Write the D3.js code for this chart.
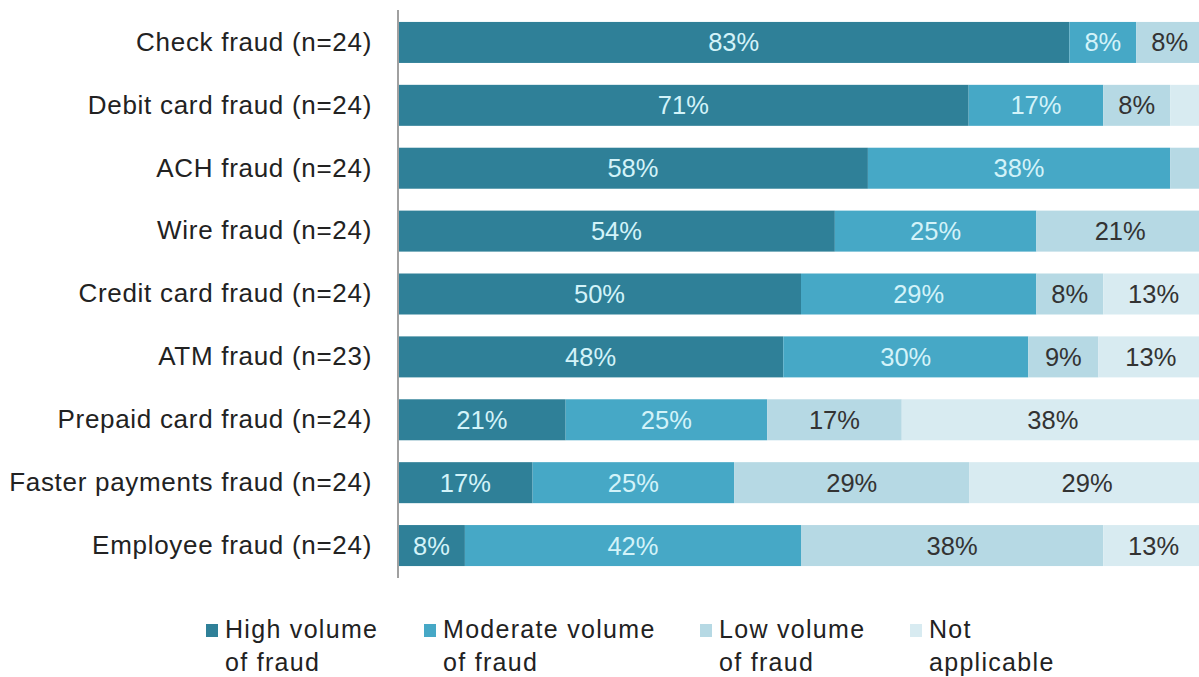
<!DOCTYPE html>
<html>
<head>
<meta charset="utf-8">
<script src="https://cdn.jsdelivr.net/npm/d3@7"></script>
<style>
  html, body { margin: 0; padding: 0; background: #fff; }
  svg { display: block; font-family: "Liberation Sans", Arial, sans-serif; }
</style>
</head>
<body>
<div id="chart"></div>
<script>
// Categories, top to bottom;
var categories = [
    "Check fraud (n=24)",
    "Debit card fraud (n=24)",
    "ACH fraud (n=24)",
    "Wire fraud (n=24)",
    "Credit card fraud (n=24)",
    "ATM fraud (n=23)",
    "Prepaid card fraud (n=24)",
    "Faster payments fraud (n=24)",
    "Employee fraud (n=24)"
]

// Share of respondents (%), one array per series;
var highVolume     = [83.3, 70.8, 58.3, 54.2, 50.0, 47.8, 20.8, 16.7, 8.3]
var moderateVolume = [8.3, 16.7, 37.5, 25.0, 29.2, 30.4, 25.0, 25.0, 41.7]
var lowVolume      = [8.3, 8.3, 4.2, 20.8, 8.3, 8.7, 16.7, 29.2, 37.5]
var notApplicable  = [0, 4.2, 0, 0, 12.5, 13.0, 37.5, 29.2, 12.5]

var seriesKeys = ["high", "moderate", "low", "na"]
var seriesNames = [["High volume", "of fraud"], ["Moderate volume", "of fraud"], ["Low volume", "of fraud"], ["Not", "applicable"]]
var seriesValues = [highVolume, moderateVolume, lowVolume, notApplicable]

// Styles;
var width = 1199
var height = 677
var colors = ["#2f8098", "#46a8c6", "#b6d9e4", "#d8ebf1"]
var labelColors = ["#d3f3f9", "#d3f3f9", "#333", "#333"]

var rows = categories.map((c, i) => {
    var row = {category: c}
    seriesKeys.forEach((k, j) => row[k] = seriesValues[j][i])
    return row
})

var stacked = d3.stack().keys(seriesKeys)(rows)

var x = d3.scaleLinear().domain([0, 100]).range([398, 1204])
var y = d3.scaleBand().domain(categories).range([11, 577])
    .paddingInner(0.348).paddingOuter(0.174)

var svg = d3.select("#chart").append("svg")
    .attr("width", width)
    .attr("height", height)

// Bars;
var layer = svg.selectAll("g.layer")
    .data(stacked)
    .join("g")
    .attr("class", "layer")
    .attr("fill", (d, i) => colors[i])

layer.selectAll("rect")
    .data(d => d)
    .join("rect")
    .attr("x", d => x(d[0]))
    .attr("y", d => y(d.data.category))
    .attr("width", d => x(d[1]) - x(d[0]))
    .attr("height", y.bandwidth())

// Segment labels;
stacked.forEach((s, i) => {
    svg.append("g")
        .selectAll("text")
        .data(s.filter(d => d[1] - d[0] >= 5))
        .join("text")
        .attr("x", d => (x(d[0]) + x(d[1])) / 2)
        .attr("y", d => y(d.data.category) + y.bandwidth() / 2 + 9)
        .attr("text-anchor", "middle")
        .attr("font-size", 25.5)
        .attr("fill", labelColors[i])
        .text(d => Math.round(d[1] - d[0]) + "%")
})

// Category axis;
var yAxis = svg.append("g")
    .attr("transform", "translate(398,0)")
    .call(d3.axisLeft(y).tickSize(0).tickPadding(26))

yAxis.select(".domain").attr("stroke", "#a0a0a0").attr("stroke-width", 2)
    .attr("d", "M0,10V578")
yAxis.selectAll(".tick text")
    .attr("font-size", 26)
    .attr("letter-spacing", 0.7)
    .attr("fill", "#222")
    .attr("font-family", "Liberation Sans, Arial, sans-serif")

// Legend;
var legendX = [206, 424, 700, 910]
var legend = svg.append("g")
    .selectAll("g")
    .data(seriesNames)
    .join("g")
    .attr("transform", (d, i) => `translate(${legendX[i]},0)`)

legend.append("rect")
    .attr("y", 624)
    .attr("width", 12)
    .attr("height", 13)
    .attr("fill", (d, i) => colors[i])

legend.append("text")
    .attr("font-size", 25)
    .attr("letter-spacing", 1.3)
    .attr("fill", "#222")
    .selectAll("tspan")
    .data(d => d)
    .join("tspan")
    .attr("x", 19)
    .attr("y", (d, j) => 638 + j * 33)
    .text(d => d)
</script>
</body>
</html>
